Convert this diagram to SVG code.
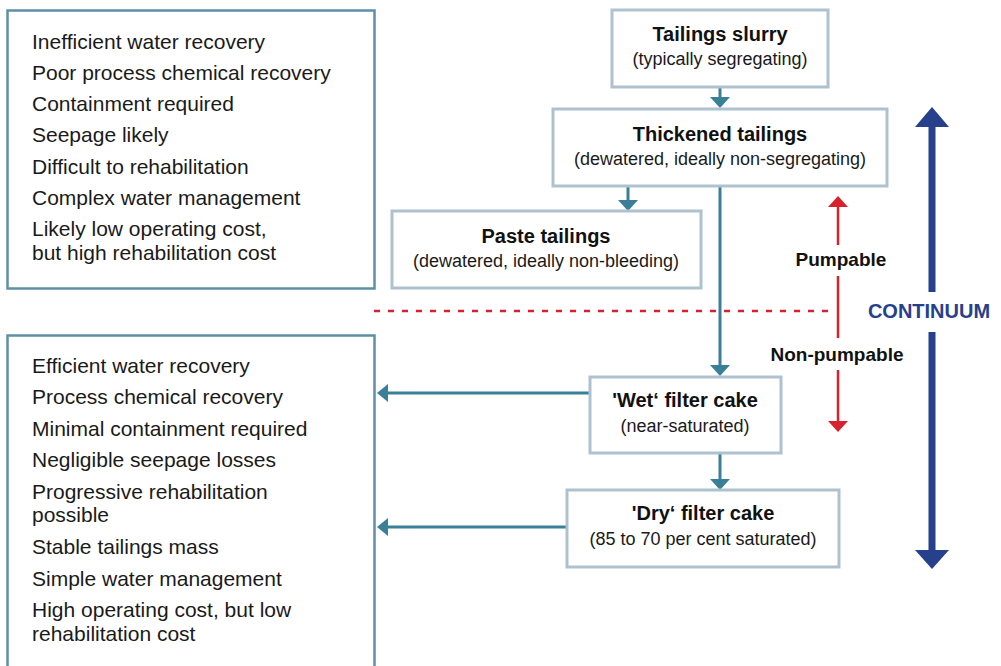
<svg xmlns="http://www.w3.org/2000/svg" width="1001" height="666" viewBox="0 0 1001 666">
  <defs>
    <style>
      .list { font-family: "Liberation Sans", Arial, sans-serif; font-size: 21px; fill: #1a1a1a; }
      .title { font-family: "Liberation Sans", Arial, sans-serif; font-size: 20px; font-weight: bold; fill: #111; text-anchor: middle; }
      .sub { font-family: "Liberation Sans", Arial, sans-serif; font-size: 18px; fill: #1a1a1a; text-anchor: middle; }
      .lbl { font-family: "Liberation Sans", Arial, sans-serif; font-size: 19px; font-weight: bold; fill: #111; text-anchor: middle; }
      .cont { font-family: "Liberation Sans", Arial, sans-serif; font-size: 20px; font-weight: bold; fill: #27408b; text-anchor: middle; }
      .listbox { fill: #ffffff; stroke: #5e8fa7; stroke-width: 2.5; }
      .node { fill: #ffffff; stroke: #adc2ce; stroke-width: 3; }
      .flow { stroke: #3a7f98; stroke-width: 3; fill: none; }
      .flowhead { fill: #3a7f98; }
      .red { stroke: #d7222e; stroke-width: 2.5; fill: none; }
      .redhead { fill: #d7222e; }
      .blue { stroke: #27408b; stroke-width: 7; fill: none; }
      .bluehead { fill: #27408b; }
    </style>
  </defs>
  <rect width="1001" height="666" fill="#ffffff"/>

  <g id="disadvantages">
    <rect class="listbox" x="7.5" y="10.5" width="367" height="278"/>
    <text class="list" x="32" y="49">Inefficient water recovery</text>
    <text class="list" x="32" y="80">Poor process chemical recovery</text>
    <text class="list" x="32" y="111">Containment required</text>
    <text class="list" x="32" y="142">Seepage likely</text>
    <text class="list" x="32" y="174">Difficult to rehabilitation</text>
    <text class="list" x="32" y="205">Complex water management</text>
    <text class="list" x="32" y="236">Likely low operating cost,</text>
    <text class="list" x="32" y="260">but high rehabilitation cost</text>
  </g>

  <g id="advantages">
    <rect class="listbox" x="7.5" y="335.5" width="367" height="345"/>
    <text class="list" x="32" y="373">Efficient water recovery</text>
    <text class="list" x="32" y="404">Process chemical recovery</text>
    <text class="list" x="32" y="436">Minimal containment required</text>
    <text class="list" x="32" y="467">Negligible seepage losses</text>
    <text class="list" x="32" y="499">Progressive rehabilitation</text>
    <text class="list" x="32" y="522">possible</text>
    <text class="list" x="32" y="554">Stable tailings mass</text>
    <text class="list" x="32" y="586">Simple water management</text>
    <text class="list" x="32" y="617">High operating cost, but low</text>
    <text class="list" x="32" y="641">rehabilitation cost</text>
  </g>

  <g id="connectors">
    <line class="flow" x1="720" y1="87" x2="720" y2="98"/>
    <polygon class="flowhead" points="710,97 730,97 720,108"/>
    <line class="flow" x1="628" y1="186" x2="628" y2="201"/>
    <polygon class="flowhead" points="618,200 638,200 628,211"/>
    <line class="flow" x1="720" y1="186" x2="720" y2="366"/>
    <polygon class="flowhead" points="710,365 730,365 720,376"/>
    <line class="flow" x1="720" y1="453" x2="720" y2="480"/>
    <polygon class="flowhead" points="710,479 730,479 720,490"/>
    <line class="flow" x1="589" y1="393" x2="386" y2="393"/>
    <polygon class="flowhead" points="377,393 388,384 388,402"/>
    <line class="flow" x1="566" y1="527" x2="386" y2="527"/>
    <polygon class="flowhead" points="377,527 388,518 388,536"/>
  </g>

  <g id="pumpable-divider">
    <line class="red" x1="374" y1="311" x2="836" y2="311" stroke-dasharray="6 8" stroke-width="3"/>
    <line class="red" x1="838" y1="206" x2="838" y2="245"/>
    <line class="red" x1="838" y1="276" x2="838" y2="338"/>
    <line class="red" x1="838" y1="370" x2="838" y2="423"/>
    <polygon class="redhead" points="838,196 828,207 848,207"/>
    <polygon class="redhead" points="828,421 848,421 838,432"/>
    <text class="lbl" x="841" y="266">Pumpable</text>
    <text class="lbl" x="837" y="361">Non-pumpable</text>
  </g>

  <g id="continuum">
    <line class="blue" x1="932" y1="125" x2="932" y2="292"/>
    <line class="blue" x1="932" y1="332" x2="932" y2="552"/>
    <polygon class="bluehead" points="932,107 915,127 949,127"/>
    <polygon class="bluehead" points="915,550 949,550 932,569"/>
    <text class="cont" x="929" y="318">CONTINUUM</text>
  </g>

  <g id="tailings-slurry">
    <rect class="node" x="612" y="10" width="216" height="77"/>
    <text class="title" x="720" y="41">Tailings slurry</text>
    <text class="sub" x="720" y="65">(typically segregating)</text>
  </g>

  <g id="thickened-tailings">
    <rect class="node" x="553" y="109" width="334" height="77"/>
    <text class="title" x="720" y="141">Thickened tailings</text>
    <text class="sub" x="720" y="165">(dewatered, ideally non-segregating)</text>
  </g>

  <g id="paste-tailings">
    <rect class="node" x="392" y="211" width="309" height="77"/>
    <text class="title" x="546" y="243">Paste tailings</text>
    <text class="sub" x="546" y="267">(dewatered, ideally non-bleeding)</text>
  </g>

  <g id="wet-filter-cake">
    <rect class="node" x="590" y="377" width="191" height="76"/>
    <text class="title" x="685" y="407">'Wet‘ filter cake</text>
    <text class="sub" x="685" y="432">(near-saturated)</text>
  </g>

  <g id="dry-filter-cake">
    <rect class="node" x="567" y="490" width="272" height="77"/>
    <text class="title" x="703" y="520">'Dry‘ filter cake</text>
    <text class="sub" x="703" y="545">(85 to 70 per cent saturated)</text>
  </g>
</svg>
